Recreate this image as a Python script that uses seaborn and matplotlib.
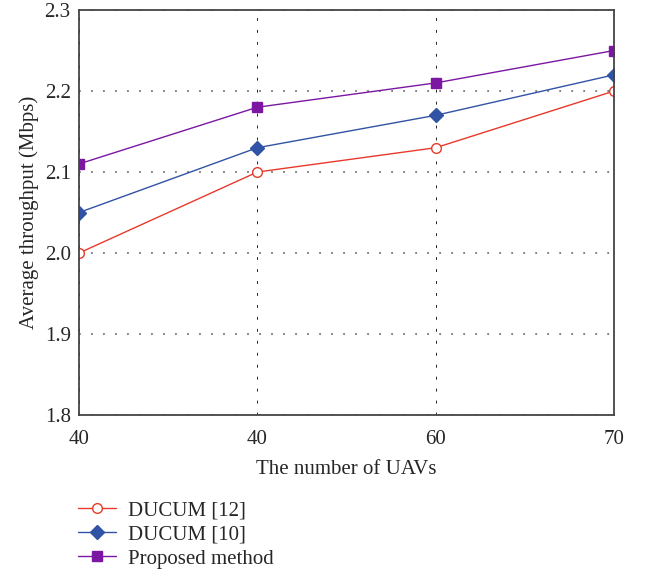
import seaborn as sns
import matplotlib.pyplot as plt
import pandas as pd

# data
uav_labels = ['40', '40', '60', '70']
positions = [0, 1, 2, 3]
ducum12 = [2.00, 2.10, 2.13, 2.20]
ducum10 = [2.05, 2.13, 2.17, 2.22]
proposed = [2.11, 2.18, 2.21, 2.25]

series_names = ['DUCUM [12]', 'DUCUM [10]', 'Proposed method']
colors = ['#E8392B', '#3153A5', '#7B17A3']
markers = ['o', 'D', 's']

df = pd.DataFrame({'pos': positions, 'DUCUM [12]': ducum12,
                   'DUCUM [10]': ducum10, 'Proposed method': proposed})
df_long = pd.melt(df, id_vars='pos', var_name='Method', value_name='Throughput')

sns.set_style('white')
plt.rcParams['font.family'] = ['Liberation Serif', 'DejaVu Serif']

fig = plt.figure(figsize=(6.45, 5.73), dpi=100)
ax = fig.add_axes([0.1225, 0.2757, 0.8295, 0.7068])

sizes = {'o': 7, 'D': 7.5, 's': 7}
for name, c, m in zip(series_names, colors, markers):
    sub = df_long[df_long['Method'] == name]
    face = 'white' if m == 'o' else c
    sns.lineplot(data=sub, x='pos', y='Throughput', ax=ax, color=c, linewidth=1.0,
                 marker=m, markersize=sizes[m], markerfacecolor=face,
                 markeredgecolor=c, markeredgewidth=1.0, label=name)

ax.set_xlim(0, 3)
ax.set_ylim(1.8, 2.3)
ax.set_xticks(positions)
ax.set_xticklabels(uav_labels)
ax.set_yticks([1.8, 1.9, 2.0, 2.1, 2.2, 2.3])
ax.set_yticklabels(['1.8', '1.9', '2.0', '2.1', '2.2', '2.3'])
# dotted grid: vertical darker/thin, horizontal grey
ax.xaxis.grid(True, linestyle=(0, (3, 9.3)), color='#222222', linewidth=0.7)
ax.yaxis.grid(True, linestyle=(0, (1, 5.65)), color='#777777', linewidth=1.3)
ax.tick_params(axis='both', direction='out', length=4, width=1, color='#444444',
               labelsize=15, pad=2)
ax.tick_params(axis='x', pad=7)
for s in ax.spines.values():
    s.set_color('#444444')
    s.set_linewidth(1.3)
ax.set_xlabel('The number of UAVs', fontsize=15, labelpad=8)
ax.set_ylabel('Average throughput (Mbps)', fontsize=15, labelpad=4)

ax.legend(loc='upper left', bbox_to_anchor=(0.121, 0.126), bbox_transform=fig.transFigure,
          frameon=False, fontsize=15, handlelength=1.8, labelspacing=0.22,
          handletextpad=0.6, borderpad=0, borderaxespad=0)

plt.savefig('out.png', dpi=100)
plt.close()
